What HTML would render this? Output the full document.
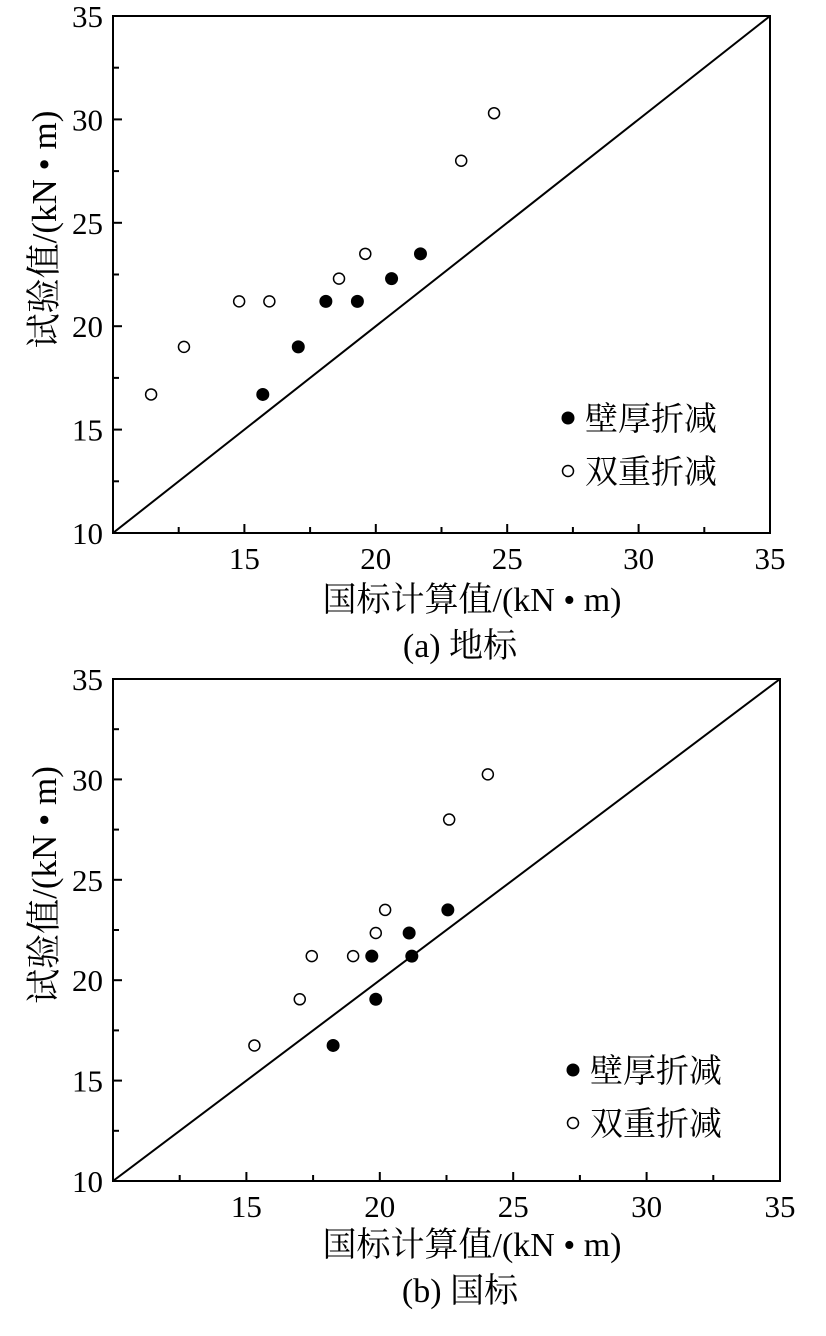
<!DOCTYPE html>
<html><head><meta charset="utf-8"><style>
body{margin:0;background:#fff}
svg text{font-family:"Liberation Serif","Noto Serif CJK SC",serif;fill:#000}
</style></head><body>
<svg id="svg" width="826" height="1331"></svg>
<script>
const ticks=[10,15,20,25,30,35];
const tickLabels=["10","15","20","25","30","35"];
const aFilledX=[15.7,17.05,18.1,19.3,20.6,21.7];
const aFilledY=[16.7,19.0,21.2,21.2,22.3,23.5];
const aOpenX=[11.45,12.7,14.8,15.95,18.6,19.6,23.25,24.5];
const aOpenY=[16.7,19.0,21.2,21.2,22.3,23.5,28.0,30.3];
const bFilledX=[18.25,19.85,19.7,21.2,21.1,22.55];
const bFilledY=[16.75,19.05,21.2,21.2,22.35,23.5];
const bOpenX=[15.3,17.0,17.45,19.0,19.85,20.2,22.6,24.05];
const bOpenY=[16.75,19.05,21.2,21.2,22.35,23.5,28.0,30.25];
const legendLabels=["壁厚折减","双重折减"];
const NS="http://www.w3.org/2000/svg";
const svg=document.getElementById('svg');
function mk(t,a,p){const e=document.createElementNS(NS,t);for(const k in a)e.setAttribute(k,a[k]);(p||svg).appendChild(e);return e;}
function panel(id,L,R,T,B,fx,fy,ox,oy,legX,legY,titleY,cap){
  const g=mk('g',{});
  
  
  const sx=v=>L+(v-10)*(R-L)/25, sy=v=>B-(v-10)*(B-T)/25;
  const box=mk('rect',{x:L,y:T,width:R-L,height:B-T,fill:'none',stroke:'#000','stroke-width':2},g);
  
  const diag=mk('line',{x1:sx(10),y1:sy(10),x2:sx(35),y2:sy(35),stroke:'#000','stroke-width':2},g);
  
  for(let v=12.5;v<35;v+=2.5){const major=(v%5===0);const len=major?9:6;
    mk('line',{x1:sx(v),y1:B,x2:sx(v),y2:B-len,stroke:'#000','stroke-width':2},g);
    mk('line',{x1:L,y1:sy(v),x2:L+len,y2:sy(v),stroke:'#000','stroke-width':2},g);}
  ticks.forEach((v,i)=>{
    if(i>0){const t=mk('text',{x:sx(v),y:B+36,'text-anchor':'middle','font-size':31},g);t.textContent=tickLabels[i];
      }
    const t2=mk('text',{x:L-10,y:sy(v)+11,'text-anchor':'end','font-size':31},g);t2.textContent=tickLabels[i];
    
  });
  fx.forEach((v,i)=>{const c=mk('circle',{cx:sx(v),cy:sy(fy[i]),r:6.5,fill:'#000'},g);
    });
  ox.forEach((v,i)=>{const c=mk('circle',{cx:sx(v),cy:sy(oy[i]),r:5.5,fill:'#fff',stroke:'#000','stroke-width':1.5},g);
    });
  const l1=mk('circle',{cx:legX,cy:legY,r:6.5,fill:'#000'},g);
  
  const l2=mk('circle',{cx:legX,cy:legY+53,r:5.5,fill:'#fff',stroke:'#000','stroke-width':1.5},g);
  
  legendLabels.forEach((s,i)=>{const t=mk('text',{x:legX+17,y:legY+12+53*i,'font-size':33},g);t.textContent=s;
    });
  const yt=mk('text',{x:0,y:0,'font-size':35,'text-anchor':'middle',transform:`translate(56,${(T+B)/2-45}) rotate(-90)`},g);
  yt.textContent='试验值/(kN • m)';
  const xt=mk('text',{x:472,y:titleY,'font-size':34,'text-anchor':'middle'},g);
  xt.textContent='国标计算值/(kN • m)';
  const ct=mk('text',{x:460,y:titleY+46,'font-size':34,'text-anchor':'middle'},g);
  ct.textContent=cap;
}
panel('a',113,770,16,533,aFilledX,aFilledY,aOpenX,aOpenY,568,418,611,'(a) 地标');
panel('b',113,780,679,1181,bFilledX,bFilledY,bOpenX,bOpenY,573,1070,1256,'(b) 国标');
</script>
</body></html>
